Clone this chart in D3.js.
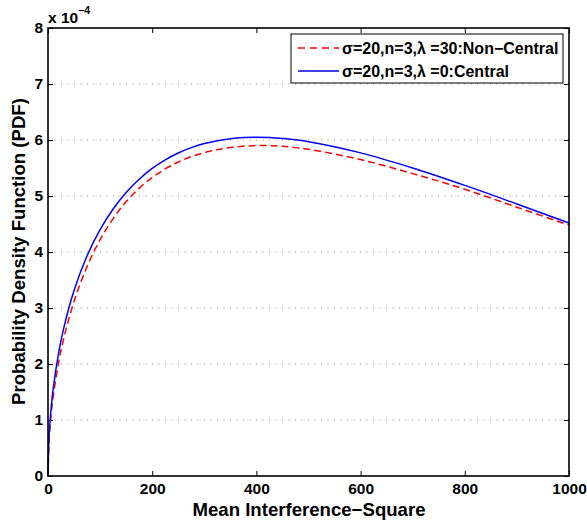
<!DOCTYPE html>
<html><head><meta charset="utf-8">
<script src="https://cdn.jsdelivr.net/npm/d3@7"></script>
<style>body{margin:0;background:#fff}svg{display:block}text{font-family:"Liberation Sans",Arial,sans-serif;font-weight:bold}</style>
</head><body>
<script>
const xValues = [0, 2, 5, 10, 20, 30, 50, 75, 100, 125, 150, 175, 200, 225, 250, 275, 300, 325, 350, 375, 400, 425, 450, 500, 600, 700, 800, 900, 1000];
const centralValues = [0, 0.703, 1.108, 1.557, 2.175, 2.631, 3.312, 3.932, 4.400, 4.768, 5.063, 5.300, 5.492, 5.646, 5.768, 5.864, 5.936, 5.988, 6.023, 6.043, 6.049, 6.044, 6.027, 5.969, 5.770, 5.500, 5.189, 4.857, 4.518];
const nonCentralValues = [0, 0.62, 1.00, 1.42, 2.01, 2.45, 3.12, 3.74, 4.22, 4.595, 4.900, 5.140, 5.330, 5.485, 5.607, 5.703, 5.775, 5.828, 5.866, 5.889, 5.900, 5.899, 5.888, 5.835, 5.650, 5.400, 5.120, 4.800, 4.480];
const xTicks = [0, 200, 400, 600, 800, 1000];
const yTicks = [0, 1, 2, 3, 4, 5, 6, 7, 8];
const legendLabels = ["σ=20,n=3,λ =30:Non−Central", "σ=20,n=3,λ =0:Central"];

const W = 587, H = 520;
const m = {left: 48, right: 569, top: 28, bottom: 476};
const svg = d3.select("body").append("svg").attr("width", W).attr("height", H);
const x = d3.scaleLinear().domain([0, 1000]).range([m.left, m.right]);
const y = d3.scaleLinear().domain([0, 8]).range([m.bottom, m.top]);

// grid
svg.append("g").selectAll("line").data(yTicks.slice(1, -1)).join("line")
  .attr("x1", m.left).attr("x2", m.right).attr("y1", d => y(d)).attr("y2", d => y(d))
  .attr("stroke", "#888").attr("stroke-width", 1).attr("stroke-dasharray", "1,5.5");

// axes
const fs = 15.5;
const gx = svg.append("g").attr("transform", `translate(0,${m.bottom})`)
  .call(d3.axisBottom(x).tickValues(xTicks).tickFormat(d3.format("d")).tickSizeInner(-5).tickSizeOuter(0).tickPadding(7));
const gxt = svg.append("g").attr("transform", `translate(0,${m.top})`)
  .call(d3.axisTop(x).tickValues(xTicks).tickSizeInner(-5).tickSizeOuter(0).tickFormat(""));
const gy = svg.append("g").attr("transform", `translate(${m.left},0)`)
  .call(d3.axisLeft(y).tickValues(yTicks).tickFormat(d3.format("d")).tickSizeInner(-5).tickSizeOuter(0).tickPadding(5));
const gyr = svg.append("g").attr("transform", `translate(${m.right},0)`)
  .call(d3.axisRight(y).tickValues(yTicks).tickSizeInner(-5).tickSizeOuter(0).tickFormat(""));
[gx, gxt, gy, gyr].forEach(g => {
  g.attr("font-family", null).attr("font-size", null);
  g.selectAll(".domain").remove();
  g.selectAll(".tick line").attr("stroke", "#000").attr("stroke-width", 1);
  g.selectAll("text").style("font-size", fs + "px").style("font-weight", "bold").attr("fill", "#000")
    .style("font-family", "'Liberation Sans', Arial, sans-serif");
});
gx.selectAll("text").attr("dy", "0.71em");

// curves
const line = d3.line().x((d, i) => x(xValues[i])).y(d => y(d)).curve(d3.curveCatmullRom.alpha(0.5));
svg.append("path").datum(nonCentralValues).attr("d", line).attr("fill", "none")
  .attr("stroke", "#ff0000").attr("stroke-width", 1.5).attr("stroke-dasharray", "7,4");
svg.append("path").datum(centralValues).attr("d", line).attr("fill", "none")
  .attr("stroke", "#0000ff").attr("stroke-width", 1.5);

// box
svg.append("rect").attr("x", m.left).attr("y", m.top).attr("width", m.right - m.left).attr("height", m.bottom - m.top)
  .attr("fill", "none").attr("stroke", "#000").attr("stroke-width", 1.6);

// exponent
const ex = svg.append("text").attr("x", m.left).attr("y", 23).style("font-size", "15.5px");
ex.append("tspan").text("x 10");
ex.append("tspan").attr("dy", -9).style("font-size", "10.5px").text("−4");

// legend
const lg = svg.append("g");
lg.append("rect").attr("x", 291).attr("y", 34).attr("width", 272).attr("height", 49)
  .attr("fill", "#fff").attr("stroke", "#000").attr("stroke-width", 1);
const styles = [{c: "#ff0000", d: "7,5"}, {c: "#0000ff", d: null}];
legendLabels.forEach((t, i) => {
  const yy = 48 + i * 23;
  lg.append("line").attr("x1", 298).attr("x2", 339).attr("y1", yy).attr("y2", yy)
    .attr("stroke", styles[i].c).attr("stroke-width", 1.5).attr("stroke-dasharray", styles[i].d);
  lg.append("text").attr("x", 342).attr("y", yy).attr("dy", "0.35em").style("font-size", "16px").text(t);
});

// axis labels
svg.append("text").attr("x", 309).attr("y", 516).attr("text-anchor", "middle")
  .style("font-size", "18.6px").text("Mean Interference−Square");
svg.append("text").attr("transform", `translate(25,251.5) rotate(-90)`)
  .attr("text-anchor", "middle").style("font-size", "18.6px").text("Probability Density Function (PDF)");
</script>
</body></html>
